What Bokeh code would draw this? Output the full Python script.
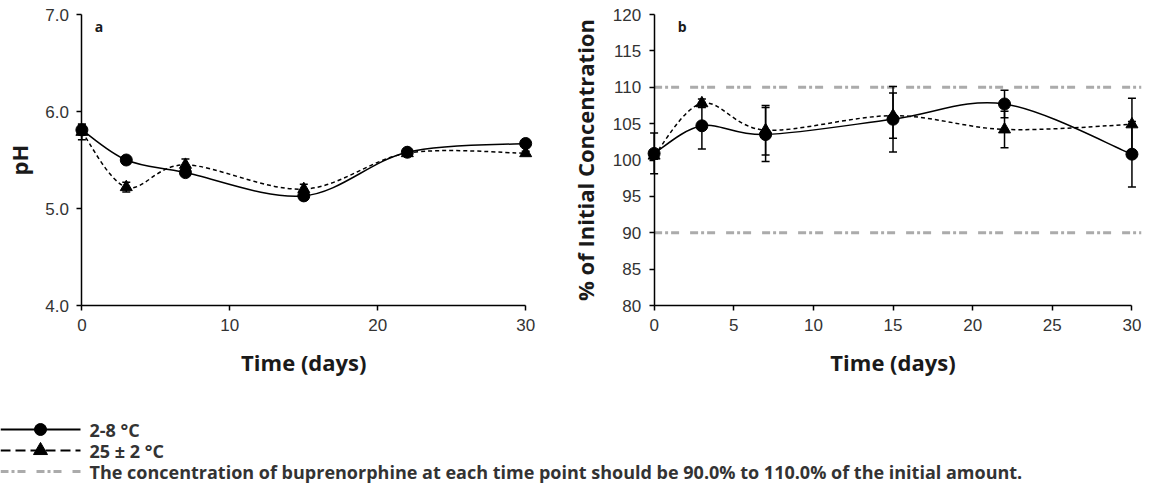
import math
from bokeh.plotting import figure
from bokeh.models import (ColumnDataSource, Whisker, TeeHead, Label, Range1d,
                          FixedTicker, NumeralTickFormatter)
from bokeh.layouts import column, row
from bokeh.embed import file_html
from bokeh.resources import INLINE
from bokeh.core.properties import value

# ---------------- data ----------------
days = [0, 3, 7, 15, 22, 30]

ph_cold = [5.81, 5.50, 5.37, 5.13, 5.58, 5.67]
ph_cold_err = [0.05, 0.03, 0.03, 0.03, 0.03, 0.02]
ph_warm = [5.79, 5.22, 5.45, 5.20, 5.57, 5.57]
ph_warm_err = [0.08, 0.05, 0.06, 0.05, 0.03, 0.02]

conc_cold = [100.9, 104.7, 103.5, 105.6, 107.7, 100.8]
conc_cold_err = [2.8, 3.2, 3.7, 4.5, 1.9, 4.5]
conc_warm = [100.6, 107.8, 104.1, 106.1, 104.2, 104.9]
conc_warm_err = [0.5, 0.6, 3.4, 3.1, 2.5, 3.6]

spec_limits = [90, 110]

ph_ticks = [4.0, 5.0, 6.0, 7.0]
ph_xticks = [0, 10, 20, 30]
conc_ticks = [80, 85, 90, 95, 100, 105, 110, 115, 120]
conc_xticks = [0, 5, 10, 15, 20, 25, 30]

legend_labels = ["2-8 \u00b0C", "25 \u00b1 2 \u00b0C",
                 "The concentration of buprenorphine at each time point should be 90.0% to 110.0% of the initial amount."]

# ---------------- styles / layout ----------------
TICK_FONT = "Liberation Sans"
TITLE_FONT = "Open Sans"
DASH_SPEC = "8 3 3 3 8 11"
GRAY = "#ababab"
PLOT_H = 291      # px between top and bottom of the value axis
PAD_TOP = 14      # px above the value axis top
PAD_BOT = 80      # px below the time axis
TITLE_DROP = 56   # px from time axis to x title centre


def smooth_segments(xs, ys, t=1.0 / 6.0):
    """Cubic Bezier control points (Catmull-Rom style smoothing through the data)."""
    n = len(xs)
    d = dict(x0=[], y0=[], x1=[], y1=[], cx0=[], cy0=[], cx1=[], cy1=[])
    for i in range(n - 1):
        pm = max(i - 1, 0)
        pp = min(i + 2, n - 1)
        d["x0"].append(xs[i]); d["y0"].append(ys[i])
        d["x1"].append(xs[i + 1]); d["y1"].append(ys[i + 1])
        d["cx0"].append(xs[i] + (xs[i + 1] - xs[pm]) * t)
        d["cy0"].append(ys[i] + (ys[i + 1] - ys[pm]) * t)
        d["cx1"].append(xs[i + 1] - (xs[pp] - xs[i]) * t)
        d["cy1"].append(ys[i + 1] - (ys[pp] - ys[i]) * t)
    return ColumnDataSource(d)


def make_panel(x0, x1, frame_w, ylo, yhi, yticks, xticks, yfmt, ylabel, ylabel_px,
               tag, tag_px, border_l, border_r):
    ppu = PLOT_H / (yhi - ylo)
    ppx = frame_w / (x1 - x0)
    p = figure(frame_width=frame_w, frame_height=PLOT_H + PAD_TOP + PAD_BOT,
               x_range=Range1d(x0, x1),
               y_range=Range1d(ylo - PAD_BOT / ppu, yhi + PAD_TOP / ppu),
               min_border=0, min_border_left=border_l, min_border_right=border_r,
               output_backend="svg", toolbar_location=None)
    p.xgrid.visible = False
    p.ygrid.visible = False
    p.outline_line_color = None
    for ax in (p.xaxis[0], p.yaxis[0]):
        ax.axis_line_color = "black"
        ax.axis_line_width = 1.5
        ax.major_tick_line_color = "black"
        ax.major_tick_line_width = 1.5
        ax.major_tick_in = 0
        ax.major_tick_out = 5
        ax.minor_tick_line_color = None
        ax.major_label_text_font = TICK_FONT
        ax.major_label_text_font_size = "17px"
        ax.major_label_text_color = "#333333"
        ax.major_label_standoff = 8
    p.xaxis[0].ticker = FixedTicker(ticks=xticks)
    p.xaxis[0].bounds = (xticks[0], xticks[-1])
    p.xaxis[0].fixed_location = ylo
    p.yaxis[0].ticker = FixedTicker(ticks=yticks)
    p.yaxis[0].formatter = NumeralTickFormatter(format=yfmt)
    p.yaxis[0].bounds = (ylo, yhi)
    p.yaxis[0].fixed_location = 0
    xmid = (xticks[0] + xticks[-1]) / 2
    p.add_layout(Label(x=xmid, y=ylo - TITLE_DROP / ppu, text="Time (days)",
                       text_font=TITLE_FONT, text_font_style="bold", text_font_size="22px",
                       text_color="#1a1a1a", text_align="center", text_baseline="middle"))
    p.add_layout(Label(x=-ylabel_px / ppx, y=(ylo + yhi) / 2, text=ylabel, angle=math.pi / 2,
                       text_font=TITLE_FONT, text_font_style="bold", text_font_size="22px",
                       text_color="#1a1a1a", text_align="center", text_baseline="middle"))
    p.add_layout(Label(x=tag_px[0] / ppx, y=yhi - tag_px[1] / ppu, text=tag,
                       text_font=TITLE_FONT, text_font_style="bold", text_font_size="14px",
                       text_color="#1a1a1a", text_align="center", text_baseline="middle"))
    return p


def draw_series(p, ys, errs, marker, dash, msize):
    src = ColumnDataSource(dict(x=days, y=ys,
                                lo=[a - b for a, b in zip(ys, errs)],
                                hi=[a + b for a, b in zip(ys, errs)]))
    p.add_layout(Whisker(base="x", upper="hi", lower="lo", source=src,
                         line_color="black", line_width=1.5,
                         upper_head=TeeHead(size=8, line_width=1.5, line_color="black"),
                         lower_head=TeeHead(size=8, line_width=1.5, line_color="black"),
                         level="glyph"))
    p.bezier(x0="x0", y0="y0", x1="x1", y1="y1", cx0="cx0", cy0="cy0", cx1="cx1", cy1="cy1",
             source=smooth_segments(days, ys), line_color="black", line_width=1.5,
             line_dash=dash)
    p.scatter("x", "y", source=src, marker=marker, size=msize,
              fill_color="black", line_color="black")


# ---------------- panel a ----------------
pa = make_panel(-5.3, 30.8, 534, 4.0, 7.0, ph_ticks, ph_xticks, "0.0", "pH", 63,
                "a", (17, 12), 3, 10)
draw_series(pa, ph_warm, ph_warm_err, "triangle", "4 3", 12)
draw_series(pa, ph_cold, ph_cold_err, "circle", "solid", 12)

# ---------------- panel b ----------------
XB_END = 30.6
pb = make_panel(-5.5, XB_END, 575, 80, 120, conc_ticks, conc_xticks, "0",
                "% of Initial Concentration", 69, "b", (28, 12), 19, 1)
pb.segment(x0=[days[0]] * len(spec_limits), y0=spec_limits,
           x1=[XB_END] * len(spec_limits), y1=spec_limits,
           line_color=GRAY, line_width=3, line_dash=DASH_SPEC)
draw_series(pb, conc_warm, conc_warm_err, "triangle", "4 3", 12)
draw_series(pb, conc_cold, conc_cold_err, "circle", "solid", 12)

# ---------------- legend strip ----------------
LW, LH = 1142, 99
pl = figure(frame_width=LW, frame_height=LH, x_range=Range1d(0, LW), y_range=Range1d(LH, 0),
            min_border=0, output_backend="svg", toolbar_location=None)
pl.axis.visible = False
pl.grid.visible = False
pl.outline_line_color = None
rows_y = [44, 65, 86]
seg_end = 80
text_x = 89
pl.segment(x0=[0], y0=[rows_y[0]], x1=[seg_end], y1=[rows_y[0]], line_color="black", line_width=2)
pl.scatter(x=[seg_end / 2], y=[rows_y[0]], marker="circle", size=12, color="black")
pl.segment(x0=[0], y0=[rows_y[1]], x1=[seg_end], y1=[rows_y[1]], line_color="black",
           line_width=2, line_dash="10 5")
pl.scatter(x=[seg_end / 2], y=[rows_y[1]], marker="triangle", size=14, color="black")
pl.segment(x0=[0], y0=[rows_y[2]], x1=[seg_end], y1=[rows_y[2]], line_color=GRAY,
           line_width=3, line_dash="8 3 3 3 8 11")
pl.text(x=[text_x] * 3, y=rows_y, text=legend_labels, text_font=value(TITLE_FONT),
        text_font_style="bold", text_font_size="18px", text_baseline="middle",
        text_color="#333333")

layout = column(row(pa, pb), pl)
open("out.html", "w").write(file_html(layout, INLINE))
